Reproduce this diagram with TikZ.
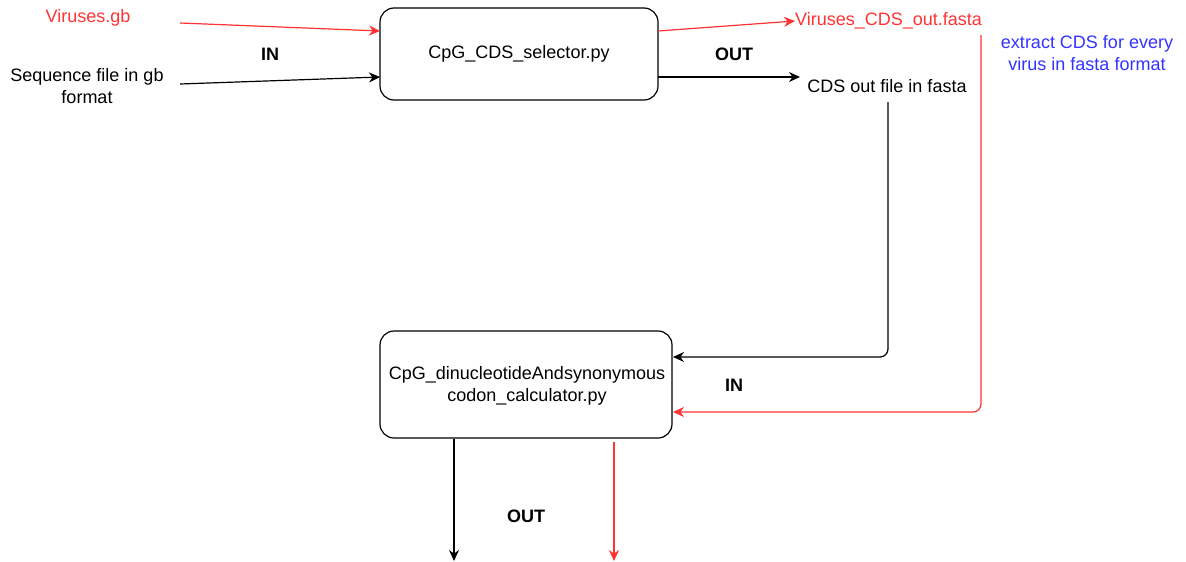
\documentclass[tikz,border=0pt]{standalone}
\usepackage{fontspec}
\setmainfont{Liberation Sans}
\usetikzlibrary{arrows.meta}
\definecolor{dred}{RGB}{255,51,51}
\definecolor{dblue}{RGB}{51,51,255}
\begin{document}
\begin{tikzpicture}[x=1pt,y=-1pt,
  every node/.style={font=\fontsize{18}{22}\selectfont, inner sep=0pt},
  proc/.style={draw, rounded corners=14pt, line width=1.2pt},
  lbl/.style={font=\fontsize{18}{22}\selectfont\bfseries},
  arr/.style={-{Stealth[length=11pt,width=10pt]}, line width=1.2pt},
  redarr/.style={arr, dred},
  txt/.style={align=center}]
\useasboundingbox (0,0) rectangle (1186,562);
% boxes
\draw[proc] (380,8) rectangle (658,100);
\node (b1) at (519,54) {CpG\_CDS\_selector.py};
\draw[proc] (380,331) rectangle (672,438);
\node[txt] (b2) at (527,386) {CpG\_dinucleotideAndsynonymous\\codon\_calculator.py};
% labels
\node[text=dred] (vgb) at (88,18) {Viruses.gb};
\node[txt] (seq) at (87,86) {Sequence file in gb\\format};
\node[lbl] (in1) at (270,54) {IN};
\node[lbl] (out1) at (734,54) {OUT};
\node[text=dred, anchor=west] (vcds) at (795,21) {Viruses\_CDS\_out.fasta};
\node (cds) at (887,86) {CDS out file in fasta};
\node[txt, text=dblue] (ex) at (1087,53) {extract CDS for every\\virus in fasta format};
\node[lbl] (in2) at (734,385) {IN};
\node[lbl] (out2) at (526,516) {OUT};
% coordinates
\coordinate (a1s) at (180,23);
\coordinate (a1e) at (380,31);
\coordinate (a2s) at (180,84);
\coordinate (a2e) at (380,77);
\coordinate (a3s) at (658,31);
\coordinate (a4s) at (658,77);
\coordinate (a4e) at (800,77);
\coordinate (c1s) at (888,102);
\coordinate (c1e) at (673,357);
\coordinate (c2s) at (981,35);
\coordinate (c2e) at (673,412);
\coordinate (d1s) at (454,439);
\coordinate (d1e) at (454,561);
\coordinate (d2s) at (614,442);
\coordinate (d2e) at (614,561);
% connectors
\draw[redarr] (a1s) -- (a1e);
\draw[arr] (a2s) -- (a2e);
\draw[redarr] (a3s) -- (vcds.west);
\draw[arr] (a4s) -- (a4e);
\draw[arr, rounded corners=8pt] (c1s) |- (c1e);
\draw[redarr, rounded corners=8pt] (c2s) |- (c2e);
\draw[arr] (d1s) -- (d1e);
\draw[redarr] (d2s) -- (d2e);
\end{tikzpicture}
\end{document}
